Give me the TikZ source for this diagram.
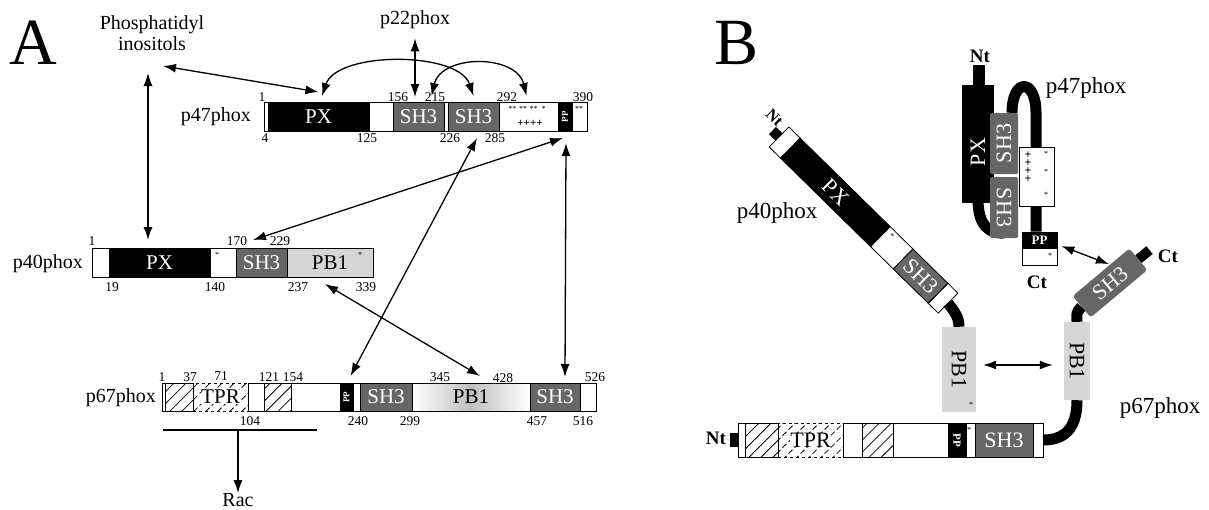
\documentclass[tikz,border=0pt]{standalone}
\usepackage{fontspec}
\setmainfont{Liberation Serif}
\usetikzlibrary{arrows.meta,patterns.meta}
\pgfdeclarelayer{bg}
\pgfsetlayers{bg,main}
\tikzset{
  segA/.style={draw, line width=0.8pt, inner sep=0pt, outer sep=0pt, anchor=west, minimum height=29pt},
  segC/.style={segA, minimum height=28pt},
  segB/.style={segA, minimum height=34pt},
  segP/.style={segA, minimum height=28pt},
  blk/.style={fill=black, text=white},
  gry/.style={fill=black!60, text=white},
  lgt/.style={fill=black!16},
  hat/.style={pattern={Lines[angle=45,distance=8.5pt,line width=0.8pt]}},
  dom/.style={font=\fontsize{21}{21}\selectfont},
  domB/.style={font=\fontsize{22}{22}\selectfont},
  txt/.style={inner sep=0pt, fill=white},
  num/.style={font=\fontsize{13.5}{13.5}\selectfont, inner sep=0pt},
  lab/.style={font=\fontsize{20}{21}\selectfont, inner sep=0pt, align=center},
  labB/.style={font=\fontsize{23}{23}\selectfont, inner sep=0pt},
  bld/.style={font=\bfseries\fontsize{19}{19}\selectfont, inner sep=0pt},
  ppt/.style={font=\bfseries\fontsize{9}{9}\selectfont, text=white, inner sep=0pt},
  tiny/.style={font=\fontsize{8}{8}\selectfont, inner sep=0pt},
  arr/.style={line width=1.3pt, {Latex[length=13pt,width=9pt]}-{Latex[length=13pt,width=9pt]}},
  arrone/.style={line width=1.3pt, -{Latex[length=13pt,width=9pt]}},
  chainB/.style={line width=11pt},
}
\begin{document}
\begin{tikzpicture}[x=1pt,y=-1pt]
\useasboundingbox (0,0) rectangle (1209,509);

% ================= Panel A =================
\node[font=\fontsize{66}{66}\selectfont, inner sep=0pt] (lA) at (33,43) {A};
\node[lab] (pi) at (152,33) {Phosphatidyl\\inositols};
\node[lab] (p22) at (415,20) {p22phox};
\coordinate (piE) at (163,66);
\coordinate (piS) at (148,73);

% p47phox
\node[lab, anchor=east] (a47lab) at (251,117) {p47phox};
\node[segA, minimum width=4pt] (a47w1) at (264,116.5) {};
\node[segA, blk, dom, minimum width=101pt] (a47px) at (268,116.5) {PX};
\node[segA, minimum width=24pt] (a47w2) at (369,116.5) {};
\node[segA, gry, dom, minimum width=51pt] (a47sh3a) at (393,116.5) {SH3};
\node[segA, minimum width=4pt] (a47gap) at (444,116.5) {};
\node[segA, gry, dom, minimum width=51pt] (a47sh3b) at (448,116.5) {SH3};
\node[segA, minimum width=59pt] (a47st) at (499,116.5) {};
\node[segA, blk, minimum width=14pt] (a47pp) at (558,116.5) {};
\node[segA, minimum width=15pt] (a47w3) at (572,116.5) {};
\node[ppt, rotate=90] (a47ppt) at (a47pp.center) {PP};
\node[tiny] (a47stars) at (527,109) {**\,\,**\,\,**\,\,\,*};
\node[font=\bfseries\fontsize{11}{11}\selectfont, inner sep=0pt] (a47plus) at (530,123) {++++};
\node[tiny] (a47stars2) at (579,109) {**};
\node[num] (n47a) at (262,97) {1};
\node[num] (n47b) at (398,97) {156};
\node[num] (n47c) at (435,97) {215};
\node[num] (n47d) at (507,97) {292};
\node[num] (n47e) at (583,97) {390};
\node[num] (n47f) at (265,138) {4};
\node[num] (n47g) at (367,138) {125};
\node[num] (n47h) at (450,138) {226};
\node[num] (n47i) at (495,138) {285};

% p40phox
\node[lab, anchor=east] (a40lab) at (83,264) {p40phox};
\node[segA, minimum width=17pt] (a40w1) at (92,262.5) {};
\node[segA, blk, dom, minimum width=101pt] (a40px) at (109,262.5) {PX};
\node[segA, minimum width=26pt] (a40w2) at (210,262.5) {};
\node[segA, gry, dom, minimum width=51pt] (a40sh3) at (236,262.5) {SH3};
\node[segA, lgt, dom, minimum width=86pt] (a40pb1) at (287,262.5) {PB1};
\node[tiny] (a40s1) at (217,255) {*};
\node[tiny] (a40s2) at (360,255) {*};
\node[num] (n40a) at (92,241) {1};
\node[num] (n40b) at (237,241) {170};
\node[num] (n40c) at (280,241) {229};
\node[num] (n40d) at (112,287) {19};
\node[num] (n40e) at (215,287) {140};
\node[num] (n40f) at (298,287) {237};
\node[num] (n40g) at (366,287) {339};

% p67phox
\node[lab, anchor=east] (a67lab) at (156,398) {p67phox};
\node[segC, minimum width=3pt] (a67w1) at (162,397) {};
\node[segC, hat, minimum width=28pt] (a67h1) at (165,397) {};
\node[segC, hat, dashed, minimum width=55pt] (a67tpr) at (193,397) {};
\node[txt, dom] (a67tprt) at (a67tpr.center) {TPR};
\node[segC, minimum width=16pt] (a67w2) at (248,397) {};
\node[segC, hat, minimum width=27pt] (a67h2) at (264,397) {};
\node[segC, minimum width=49pt] (a67w3) at (291,397) {};
\node[segC, blk, minimum width=13pt] (a67pp) at (340,397) {};
\node[ppt, rotate=90] (a67ppt) at (a67pp.center) {PP};
\node[segC, minimum width=7pt] (a67w4) at (353,397) {};
\node[segC, gry, dom, minimum width=52pt] (a67sh3a) at (360,397) {SH3};
\node[segC, dom, minimum width=118pt, left color=white, right color=white, middle color=black!25] (a67pb1) at (412,397) {PB1};
\node[segC, gry, dom, minimum width=50pt] (a67sh3b) at (530,397) {SH3};
\node[segC, minimum width=16pt] (a67w5) at (580,397) {};
\node[num] (n67a) at (162,377) {1};
\node[num] (n67b) at (190,377) {37};
\node[num] (n67c) at (221,376) {71};
\node[num] (n67d) at (269,377) {121};
\node[num] (n67e) at (293,377) {154};
\node[num] (n67f) at (440,377) {345};
\node[num] (n67g) at (503,378) {428};
\node[num] (n67h) at (595,377) {526};
\node[num] (n67i) at (250,421) {104};
\node[num] (n67j) at (358,421) {240};
\node[num] (n67k) at (410,421) {299};
\node[num] (n67l) at (537,421) {457};
\node[num] (n67m) at (583,421) {516};

% Rac
\coordinate (racL) at (163,430);
\coordinate (racR) at (317,430);
\coordinate (racM) at (238,430);
\node[lab] (rac) at (238,500) {Rac};
\draw[line width=1.2pt] (racL) -- (racR);
\draw[arrone] (racM) -- (rac.north);

% interaction arrows A
\draw[arr] (piE) -- ([yshift=10pt]a47px.north);
\draw[arr] (piS) -- ([xshift=-11.5pt,yshift=8pt]a40px.north);
\draw[arr] ([yshift=-9pt]p22.south) -- ([xshift=-3.5pt,yshift=5pt]a47sh3a.north);
\draw[arr] ([xshift=3.5pt,yshift=6pt]a47px.north) .. controls +(15,-45) and +(-15,-45) .. ([yshift=6pt]a47sh3b.north);
\draw[arr] ([xshift=13pt,yshift=6pt]a47sh3a.north) .. controls +(10,-42) and +(-10,-42) .. ([xshift=-2pt,yshift=6pt]a47st.north);
\draw[arr] ([xshift=3.5pt,yshift=-7pt]a47sh3b.south) -- ([xshift=4pt,yshift=7pt]a67pp.north);
\draw[arr] ([xshift=-2pt,yshift=-7pt]a47pp.south) -- ([xshift=-8.5pt,yshift=8pt]a40sh3.north);
\draw[arr] ([xshift=1pt,yshift=-12pt]a47pp.south) -- ([xshift=10pt,yshift=6pt]a67sh3b.north);
\draw[arr] ([xshift=-5pt,yshift=-7pt]a40pb1.south) -- ([xshift=9pt,yshift=7pt]a67pb1.north);

% ================= Panel B =================
\node[font=\fontsize{66}{66}\selectfont, inner sep=0pt] (lB) at (736,43) {B};

% p40phox (tilted)
\node[labB] (b40lab) at (777,213) {p40phox};
\begin{scope}[shift={(779,137)}, rotate=-44.5, transform shape]
  \node[segP, minimum width=16pt] (b40w1) at (0,0) {};
  \node[segP, blk, minimum width=126pt] (b40px) at (16,0) {};
  \node[segP, minimum width=32pt] (b40w2) at (142,0) {};
  \node[segP, gry, minimum width=49pt] (b40sh3) at (174,0) {};
  \node[segP, minimum width=14pt] (b40w3) at (223,0) {};
  \node[domB, text=white, inner sep=0pt] (b40pxt) at (79,0) {PX};
  \node[domB, text=white, inner sep=0pt] (b40sh3t) at (198.5,0) {SH3};
  \node[fill=black, inner sep=0pt, minimum width=9pt, minimum height=10pt, anchor=east] (b40nt) at (0,0) {};
  \node[bld, font=\bfseries\fontsize{16}{16}\selectfont] (b40ntl) at (-17,-11) {Nt};
  \node[tiny] (b40s) at (150,-8) {*};
\end{scope}

% p47phox (folded)
\node[labB] (b47lab) at (1086,88) {p47phox};
\node[fill=black, inner sep=0pt, minimum width=12pt, minimum height=22pt] (b47nt) at (979,76) {};
\node[bld] (b47ntl) at (980,56) {Nt};
\node[fill=black, inner sep=0pt, minimum width=32pt, minimum height=118pt] (b47px) at (978,144) {};
\node[domB, text=white, rotate=90, inner sep=0pt] (b47pxt) at ([yshift=-8pt]b47px.center) {PX};
\node[fill=black!60, rounded corners=2pt, inner sep=0pt, minimum width=28pt, minimum height=61pt] (b47sh3a) at (1004,143.5) {};
\node[domB, text=white, rotate=90, inner sep=0pt] (b47sh3at) at (b47sh3a.center) {SH3};
\node[fill=black!60, rounded corners=2pt, inner sep=0pt, minimum width=28pt, minimum height=61pt] (b47sh3b) at (1004,207.5) {};
\node[domB, text=white, rotate=-90, inner sep=0pt] (b47sh3bt) at (b47sh3b.center) {SH3};
\node[draw, fill=white, line width=0.8pt, inner sep=0pt, minimum width=35pt, minimum height=59pt] (b47pm) at (1036.5,176.5) {};
\foreach \yy in {155,163,171,179}
  \node[font=\bfseries\fontsize{12}{12}\selectfont, inner sep=0pt] (b47plus\yy) at (1028,\yy) {+};
\foreach \yy in {154,172,195}
  \node[tiny] (b47star\yy) at (1046,\yy) {*};
\node[fill=black, draw, line width=0.8pt, inner sep=0pt, minimum width=35pt, minimum height=16pt, text=white, font=\bfseries\fontsize{13}{13}\selectfont] (b47pp) at (1039.5,240) {PP};
\node[draw, fill=white, line width=0.8pt, inner sep=0pt, minimum width=35pt, minimum height=17pt] (b47ctb) at (1039.5,256.5) {};
\node[tiny] (b47ctstar) at (1050,256) {*};
\node[bld] (b47ct) at (1037,282) {Ct};
\coordinate (b47r) at ([xshift=-3.5pt]b47pp.north);
\coordinate (b47top) at (b47r |- b47sh3a.north);

% p67phox C-terminal SH3 (tilted)
\node[fill=black!60, rounded corners=3pt, inner sep=0pt, minimum width=74pt, minimum height=28pt, rotate=40] (bsh3) at (1110,283) {};
\node[domB, text=white, inner sep=0pt, rotate=40] (bsh3t) at (bsh3.center) {SH3};
\draw[line width=10pt] (bsh3.east) -- ++(11,-9);
\node[bld] (bct) at (1168,256) {Ct};

% PB1 domains
\node[fill=black!16, inner sep=0pt, minimum width=34pt, minimum height=85pt] (b1L) at (959,369.5) {};
\node[domB, rotate=-90, inner sep=0pt] (b1Lt) at (b1L.center) {PB1};
\node[tiny] (b1Ls) at (971,405) {*};
\node[fill=black!16, inner sep=0pt, minimum width=26pt, minimum height=78pt] (b1R) at (1077,361) {};
\node[domB, rotate=-90, inner sep=0pt] (b1Rt) at (b1R.center) {PB1};
\node[labB] (b67lab) at (1160,408) {p67phox};

% p67phox bar B
\node[segB, minimum width=7pt] (b67w1) at (738,440) {};
\node[segB, hat, minimum width=33pt] (b67h1) at (745,440) {};
\node[segB, hat, dashed, minimum width=65pt] (b67tpr) at (778,440) {};
\node[txt, domB] (b67tprt) at (b67tpr.center) {TPR};
\node[segB, minimum width=19pt] (b67w2) at (843,440) {};
\node[segB, hat, minimum width=31pt] (b67h2) at (862,440) {};
\node[segB, minimum width=55pt] (b67w3) at (893,440) {};
\node[segB, blk, minimum width=18pt] (b67pp) at (948,440) {};
\node[ppt, rotate=-90, font=\bfseries\fontsize{11}{11}\selectfont] (b67ppt) at (b67pp.center) {PP};
\node[segB, minimum width=9pt] (b67w5) at (966,440) {};
\node[tiny] (b67s) at (969,430) {*};
\node[segB, gry, domB, minimum width=58pt] (b67sh3) at (975,440) {SH3};
\node[segB, minimum width=10pt] (b67w4) at (1033,440) {};
\node[fill=black, inner sep=0pt, minimum width=8pt, minimum height=14pt, anchor=east] (b67nt) at (738,440) {};
\node[bld] (b67ntl) at (716,438) {Nt};

% arrows B
\draw[arr] ([xshift=4pt,yshift=-6pt]b47pp.east) -- ([xshift=8pt,yshift=8pt]bsh3.north);
\draw[arr] ([xshift=7pt,yshift=4.5pt]b1L.east) -- ([xshift=-11pt,yshift=-4pt]b1R.west);

% chains (behind)
\begin{pgfonlayer}{bg}
\draw[chainB] ([xshift=8pt]b47sh3a.north) .. controls +(0,-35) and +(0,-35) .. (b47top) -- (b47r);
\draw[chainB] ([yshift=4pt]b47px.south) .. controls +(0,28) and +(-14,0) .. ([yshift=5pt]b47sh3b.south);
\draw[chainB] (b40w3.east) .. controls +(6,8) and +(0,-10) .. (b1L.north);
\draw[chainB] (bsh3.west) .. controls +(-6,6) and +(0,-8) .. (b1R.north);
\draw[chainB] (b1R.south) .. controls +(0,30) and +(20,0) .. (b67w4.east);
\end{pgfonlayer}
\end{tikzpicture}
\end{document}
